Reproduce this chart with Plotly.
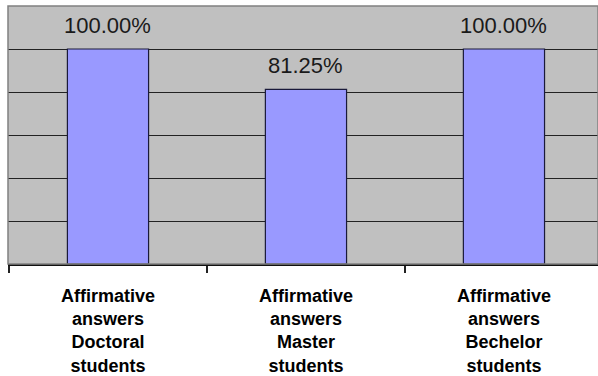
import plotly.graph_objects as go

categories = ["Doctoral", "Master", "Bechelor"]
values = [1.0, 0.8125, 1.0]
value_labels = ["100.00%", "81.25%", "100.00%"]
tick_labels = ["Affirmative<br>answers<br>Doctoral<br>students",
               "Affirmative<br>answers<br>Master<br>students",
               "Affirmative<br>answers<br>Bechelor<br>students"]

fig = go.Figure()
fig.add_trace(go.Bar(
    x=categories, y=values, width=0.41,
    marker=dict(color="#9999FF", line=dict(color="#1a1a3a", width=1.2)),
    hoverinfo="skip",
))

for c, v, t in zip(categories, values, value_labels):
    fig.add_annotation(x=c, y=v, text=t, showarrow=False, yanchor="bottom",
                       yshift=9, font=dict(family="Liberation Sans, Arial", size=22, color="#1a1a1a"))

fig.add_shape(type="rect", xref="paper", yref="paper", x0=0, y0=0, x1=1, y1=1,
              line=dict(color="#808080", width=1.5), layer="above")

fig.update_layout(
    width=598, height=376,
    margin=dict(l=8, r=0, t=6, b=112),
    paper_bgcolor="white", plot_bgcolor="#C0C0C0",
    showlegend=False,
    xaxis=dict(
        type="category", range=[-0.505, 2.475], automargin=False,
        tickmode="array", tickvals=categories, ticktext=tick_labels,
        tickson="boundaries", ticks="outside", ticklen=7, tickcolor="#222", tickwidth=1.5,
        showline=True, linecolor="#111", linewidth=2,
        showgrid=False,
        ticklabelstandoff=14,
        tickfont=dict(family="Liberation Sans, Arial", size=18, color="#000"),
    ),
    yaxis=dict(
        range=[0, 1.2], tickmode="array", tickvals=[0.2, 0.4, 0.6, 0.8, 1.0],
        showticklabels=False, showgrid=True, gridcolor="#222", gridwidth=1.2,
        zeroline=False, showline=False, ticks="", automargin=False,
    ),
)
fig.update_xaxes(tickfont=dict(weight="bold"))

fig.write_html("out.html")
